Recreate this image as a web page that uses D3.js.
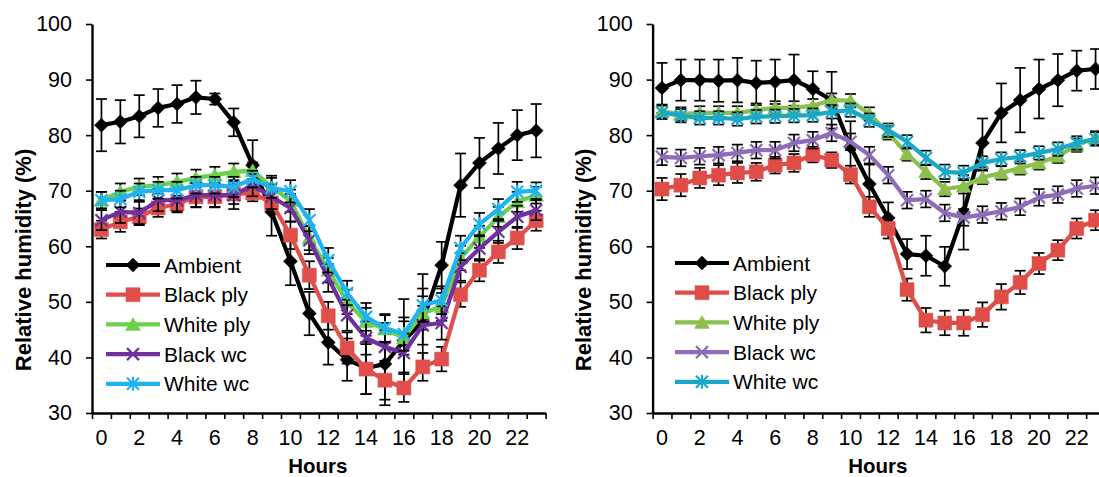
<!DOCTYPE html>
<html>
<head>
<meta charset="utf-8">
<script src="https://cdn.jsdelivr.net/npm/d3@7"></script>
<style>
  body { margin: 0; background: #fff; }
  text { font-family: Arial, "Liberation Sans", sans-serif; }
</style>
</head>
<body>
<script>
// ---- data ----
var hours = [0,1,2,3,4,5,6,7,8,9,10,11,12,13,14,15,16,17,18,19,20,21,22,23];
var hourLabels = [0,2,4,6,8,10,12,14,16,18,20,22];
var yTicks = [30,40,50,60,70,80,90,100];
var seriesNames = ["Ambient","Black ply","White ply","Black wc","White wc"];

// left panel
var leftAmbient   = [81.8,82.4,83.4,84.9,85.6,86.8,86.5,82.3,74.6,66.2,57.3,47.9,42.7,39.6,38.1,38.8,43.0,46.5,56.6,71.0,75.0,77.6,80.0,80.8];
var leftAmbientSd = [4.7,3.9,3.8,3.4,3.4,3.0,1.0,2.5,4.5,4.3,4.3,3.9,4.0,3.8,4.7,7.4,7.5,8.5,4.2,5.7,4.5,4.6,4.5,4.8];
var leftBlackPly   = [63.0,64.4,65.3,66.9,67.6,68.9,68.9,69.4,69.6,67.8,62.0,54.8,47.5,41.7,37.9,35.9,34.5,38.3,39.7,51.3,55.7,59.0,61.5,64.6];
var leftBlackPlySd = [1.6,1.8,1.5,1.6,1.5,1.8,1.8,1.8,1.5,1.8,2.5,2.5,2.5,2.8,4.5,3.5,2.5,2.5,2.2,2.2,2.0,2.0,2.0,1.8];
var leftWhitePly   = [68.3,69.8,70.7,71.0,71.6,72.3,72.8,73.4,73.6,70.7,68.2,61.5,55.7,50.0,46.4,45.1,43.5,48.0,49.1,57.9,61.7,65.3,68.0,69.2];
var leftWhitePlySd = [1.5,1.5,1.5,1.5,1.5,1.5,1.5,1.5,1.5,2.0,2.0,2.2,2.2,2.2,2.5,2.5,3.0,3.0,2.5,2.2,2.0,1.8,1.8,1.5];
var leftBlackWc   = [64.7,66.2,66.0,68.3,68.3,69.2,69.2,69.2,71.0,68.9,66.9,61.1,54.3,47.6,43.5,41.9,40.8,45.8,46.2,56.3,59.6,62.6,65.3,66.5];
var leftBlackWcSd = [1.8,2.0,2.0,2.0,2.0,2.2,2.2,2.5,2.0,2.2,2.5,2.5,2.5,2.8,3.0,3.0,3.5,3.5,3.0,2.5,2.2,2.0,2.0,1.8];
var leftWhiteWc   = [68.3,68.5,69.8,70.1,70.1,71.0,71.0,70.7,72.1,70.5,69.9,64.7,57.5,51.6,47.3,45.3,44.2,49.4,50.3,59.7,64.0,66.7,69.8,70.0];
var leftWhiteWcSd = [1.5,1.5,1.5,1.5,1.5,1.5,1.5,1.8,1.5,1.8,2.0,2.0,2.2,2.2,2.5,2.5,3.0,3.0,2.5,2.2,2.0,1.8,1.8,1.5];

// right panel
var rightAmbient   = [88.5,89.9,89.9,89.8,89.9,89.4,89.6,89.9,88.3,86.3,77.9,71.2,65.1,58.6,58.3,56.4,66.1,78.6,84.0,86.3,88.3,89.9,91.6,91.9];
var rightAmbientSd = [4.5,3.7,3.7,3.8,4.0,4.0,4.0,4.6,3.2,5.1,4.6,3.5,2.8,2.7,3.6,3.5,6.7,4.4,5.3,5.8,5.3,4.7,3.6,3.6];
var rightBlackPly   = [70.3,71.0,72.3,72.8,73.2,73.4,74.6,75.0,76.5,75.5,72.9,67.1,63.2,52.2,46.7,46.2,46.2,47.7,50.9,53.5,56.9,59.3,63.2,64.7];
var rightBlackPlySd = [2.0,2.0,1.8,1.8,1.8,1.6,1.5,1.6,1.4,1.4,1.6,1.8,1.8,2.0,2.2,2.2,2.3,2.2,2.3,2.1,1.9,1.8,1.8,1.8];
var rightWhitePly   = [84.3,83.8,84.0,84.0,84.0,84.5,84.9,84.9,85.3,86.3,86.2,83.8,80.4,76.6,73.4,70.3,70.8,72.4,73.2,74.1,75.0,76.2,78.2,79.5];
var rightWhitePlySd = [1.2,1.2,1.2,1.2,1.2,1.2,1.2,1.2,1.2,1.2,1.2,1.2,1.2,1.2,1.3,1.3,1.3,1.2,1.2,1.2,1.2,1.2,1.2,1.2];
var rightBlackWc   = [76.1,75.9,76.2,76.4,76.8,77.3,77.3,78.6,79.1,80.4,78.8,76.4,72.8,68.3,68.5,66.0,65.2,65.7,66.3,67.1,68.8,69.3,70.4,70.9];
var rightBlackWcSd = [1.5,1.5,1.5,1.5,1.5,1.5,1.5,1.5,1.5,1.5,1.5,1.5,1.5,1.5,1.5,1.5,1.5,1.5,1.5,1.5,1.5,1.5,1.5,1.5];
var rightWhiteWc   = [84.1,83.5,83.1,83.1,82.9,83.3,83.4,83.5,83.6,84.2,84.5,82.7,80.9,78.8,75.9,73.4,73.2,75.0,75.7,76.1,76.8,77.5,78.6,79.3];
var rightWhiteWcSd = [1.2,1.2,1.2,1.2,1.2,1.2,1.2,1.2,1.2,1.2,1.2,1.2,1.2,1.2,1.3,1.3,1.3,1.2,1.2,1.2,1.2,1.2,1.2,1.2];

// ---- layout ----
var W = 1099, H = 477;
var plotTop = 24, plotBottom = 413;
var leftX0 = 92, leftX1 = 545.6;
var rightX0 = 652.6, rightX1 = 1105;
var tickFont = 21.5;

var leftColors  = ["#000000","#e04f4b","#6dd04a","#7030a0","#1fb4f0"];
var rightColors = ["#000000","#df4d49","#8dbf4f","#8e6cb6","#1aa8c8"];
var markers = ["diamond","square","triangle","x","asterisk"];

var svg = d3.select("body").append("svg")
    .attr("width", W)
    .attr("height", H);

function markerPath(type) {
    var p = d3.path();
    if (type == "diamond") {
        p.moveTo(0,-7); p.lineTo(7,0); p.lineTo(0,7); p.lineTo(-7,0); p.closePath();
    } else if (type == "square") {
        p.rect(-7,-7,14,14);
    } else if (type == "triangle") {
        p.moveTo(0,-7); p.lineTo(7.5,6); p.lineTo(-7.5,6); p.closePath();
    } else if (type == "x") {
        p.moveTo(-6,-6); p.lineTo(6,6); p.moveTo(6,-6); p.lineTo(-6,6);
    } else {
        p.moveTo(-6,-6); p.lineTo(6,6); p.moveTo(6,-6); p.lineTo(-6,6);
        p.moveTo(0,-7); p.lineTo(0,7);
    }
    return p.toString();
}

function drawMarker(g, type, color, x, y) {
    var filled = (type == "diamond" || type == "square" || type == "triangle");
    g.append("path")
        .attr("d", markerPath(type))
        .attr("transform", "translate(" + x + "," + y + ")")
        .attr("fill", filled ? color : "none")
        .attr("stroke", color)
        .attr("stroke-width", filled ? 0.5 : 2.2);
}

function drawPanel(x0, x1, colors, values, sds, titleX, legendX, legendY) {
    var chart = svg.append("g");

    var xBand = d3.scaleBand().domain(hours).range([x0, x1]);
    var xLin = d3.scaleLinear().domain([0, 24]).range([x0, x1]);
    var yScale = d3.scaleLinear().domain([30, 100]).range([plotBottom, plotTop]);
    var cx = function(h) { return xBand(h) + xBand.bandwidth() / 2; };

    // series
    values.forEach(function(vals, s) {
        var sd = sds[s];
        var g = chart.append("g");
        var line = d3.line()
            .x(function(d, i) { return cx(hours[i]); })
            .y(function(d) { return yScale(d); });

        // error bars
        var eb = g.append("g").attr("stroke", "#000").attr("stroke-width", 1.7).attr("fill", "none");
        vals.forEach(function(v, i) {
            var x = cx(hours[i]);
            var yt = yScale(v + sd[i]), yb = yScale(v - sd[i]);
            eb.append("line").attr("x1", x).attr("x2", x).attr("y1", yt).attr("y2", yb);
            eb.append("line").attr("x1", x - 5.5).attr("x2", x + 5.5).attr("y1", yt).attr("y2", yt);
            eb.append("line").attr("x1", x - 5.5).attr("x2", x + 5.5).attr("y1", yb).attr("y2", yb);
        });

        g.append("path")
            .datum(vals)
            .attr("d", line)
            .attr("fill", "none")
            .attr("stroke", colors[s])
            .attr("stroke-width", 4.2)
            .attr("stroke-linejoin", "round");

        vals.forEach(function(v, i) {
            drawMarker(g, markers[s], colors[s], cx(hours[i]), yScale(v));
        });
    });

    // axes
    var xAxis = chart.append("g")
        .attr("transform", "translate(0," + plotBottom + ")")
        .call(d3.axisBottom(xLin).ticks(24).tickSize(6).tickSizeOuter(0).tickFormat(""));
    xAxis.select(".domain").attr("stroke-width", 2.4);
    xAxis.selectAll(".tick line").attr("stroke-width", 1.6);

    var xLabels = chart.append("g")
        .attr("transform", "translate(0," + plotBottom + ")")
        .call(d3.axisBottom(xBand).tickValues(hourLabels).tickSize(0).tickPadding(17));
    xLabels.select(".domain").remove();
    xLabels.selectAll("text").attr("font-size", tickFont).attr("fill", "#000")
        .attr("font-family", "Arial, 'Liberation Sans', sans-serif");

    var yAxis = chart.append("g")
        .attr("transform", "translate(" + x0 + ",0)")
        .call(d3.axisLeft(yScale).tickValues(yTicks).tickSize(6).tickSizeOuter(0).tickPadding(14));
    yAxis.select(".domain").attr("stroke-width", 2.4);
    yAxis.selectAll(".tick line").attr("stroke-width", 1.6);
    yAxis.selectAll("text").attr("font-size", tickFont).attr("fill", "#000")
        .attr("font-family", "Arial, 'Liberation Sans', sans-serif");

    chart.append("text")
        .attr("x", (x0 + x1) / 2 - 1)
        .attr("y", 473)
        .attr("text-anchor", "middle")
        .attr("font-size", 20.5)
        .attr("font-weight", "bold")
        .text("Hours");

    chart.append("text")
        .attr("transform", "translate(" + titleX + ",260) rotate(-90)")
        .attr("text-anchor", "middle")
        .attr("font-size", 22)
        .attr("font-weight", "bold")
        .text("Relative humidity (%)");

    // legend
    var leg = chart.append("g");
    seriesNames.forEach(function(name, s) {
        var y = legendY + s * 29.7;
        leg.append("line")
            .attr("x1", legendX).attr("x2", legendX + 54)
            .attr("y1", y).attr("y2", y)
            .attr("stroke", colors[s]).attr("stroke-width", 4.2);
        drawMarker(leg, markers[s], colors[s], legendX + 27, y);
        leg.append("text")
            .attr("x", legendX + 58)
            .attr("y", y + 7.5)
            .attr("font-size", 21)
            .text(name);
    });
}

drawPanel(leftX0, leftX1, leftColors,
    [leftAmbient, leftBlackPly, leftWhitePly, leftBlackWc, leftWhiteWc],
    [leftAmbientSd, leftBlackPlySd, leftWhitePlySd, leftBlackWcSd, leftWhiteWcSd],
    31, 106, 265);

drawPanel(rightX0, rightX1, rightColors,
    [rightAmbient, rightBlackPly, rightWhitePly, rightBlackWc, rightWhiteWc],
    [rightAmbientSd, rightBlackPlySd, rightWhitePlySd, rightBlackWcSd, rightWhiteWcSd],
    591, 675, 263);
</script>
</body>
</html>
